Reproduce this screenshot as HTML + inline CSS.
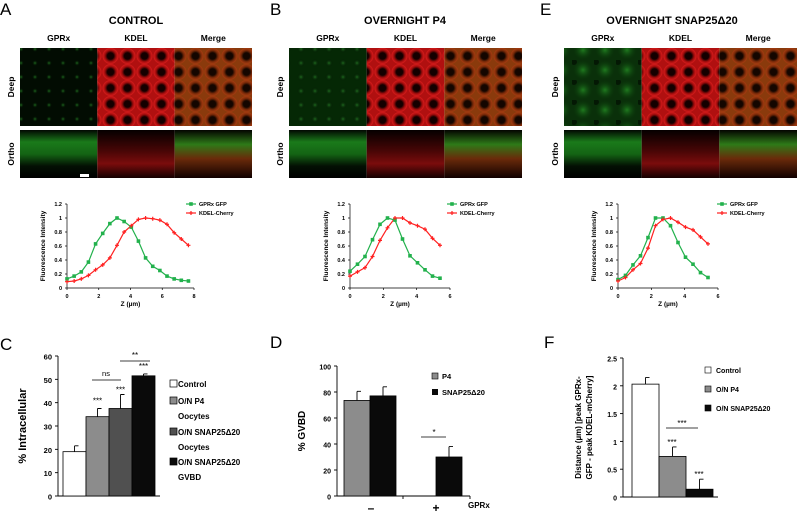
<!DOCTYPE html>
<html><head><meta charset="utf-8"><style>
html,body{margin:0;padding:0;background:#fff}
svg{display:block;font-family:"Liberation Sans",sans-serif}
</style></head><body>
<svg id="fig" width="798" height="512" viewBox="0 0 798 512">
<defs>
<radialGradient id="cellR"><stop offset="0.4" stop-color="#140000"/><stop offset="0.7" stop-color="#a00c0c"/><stop offset="0.95" stop-color="#d01a1a"/></radialGradient>
<pattern id="pR" width="17" height="16" patternUnits="userSpaceOnUse"><rect width="17" height="16" fill="#b01010"/><circle cx="8.5" cy="8" r="8" fill="url(#cellR)"/></pattern>
<radialGradient id="cellM"><stop offset="0.4" stop-color="#140600"/><stop offset="0.7" stop-color="#7a2a08"/><stop offset="0.95" stop-color="#a03a10"/></radialGradient>
<pattern id="pM" width="17" height="16" patternUnits="userSpaceOnUse"><rect width="17" height="16" fill="#8a3a0c"/><circle cx="8.5" cy="8" r="8" fill="url(#cellM)"/></pattern>
<radialGradient id="dotG"><stop offset="0" stop-color="#1e6a1e"/><stop offset="1" stop-color="#020e02" stop-opacity="0"/></radialGradient>
<pattern id="pG" width="14" height="14" patternUnits="userSpaceOnUse"><rect width="14" height="14" fill="#020c02"/><circle cx="7" cy="7" r="3" fill="url(#dotG)"/></pattern>
<pattern id="pG2" width="14" height="14" patternUnits="userSpaceOnUse"><rect width="14" height="14" fill="#052805"/><circle cx="7" cy="7" r="4" fill="url(#dotG)"/></pattern>
<radialGradient id="blobG"><stop offset="0" stop-color="#1f7a1f"/><stop offset="1" stop-color="#0a3a0a" stop-opacity="0"/></radialGradient>
<pattern id="pGE" width="22" height="20" patternUnits="userSpaceOnUse"><rect width="22" height="20" fill="#0a300a"/><circle cx="11" cy="10" r="10" fill="url(#blobG)"/><circle cx="2" cy="2" r="3" fill="#041804"/></pattern>
<linearGradient id="oG" x1="0" y1="0" x2="0" y2="1"><stop offset="0" stop-color="#020802"/><stop offset="0.25" stop-color="#1a7a1a"/><stop offset="0.5" stop-color="#146414"/><stop offset="0.75" stop-color="#031003"/><stop offset="1" stop-color="#000"/></linearGradient>
<linearGradient id="oR" x1="0" y1="0" x2="0" y2="1"><stop offset="0" stop-color="#050000"/><stop offset="0.45" stop-color="#4a0606"/><stop offset="0.7" stop-color="#7a0c0c"/><stop offset="1" stop-color="#140000"/></linearGradient>
<linearGradient id="oM" x1="0" y1="0" x2="0" y2="1"><stop offset="0" stop-color="#040400"/><stop offset="0.3" stop-color="#2e7a18"/><stop offset="0.6" stop-color="#6a2a0a"/><stop offset="1" stop-color="#100000"/></linearGradient>
</defs>
<g id="root"></g>
</svg>
<script>
// ---- Line chart data ----
const xA=[0,0.45,0.9,1.35,1.8,2.25,2.7,3.15,3.6,4.05,4.5,4.95,5.4,5.85,6.3,6.75,7.2,7.65];
const gA=[0.13,0.17,0.23,0.37,0.63,0.78,0.92,1.0,0.95,0.87,0.67,0.43,0.31,0.25,0.17,0.13,0.11,0.10];
const rA=[0.09,0.10,0.13,0.18,0.26,0.33,0.43,0.61,0.80,0.89,0.98,1.0,0.99,0.97,0.91,0.79,0.70,0.61];
const xB=[0,0.45,0.9,1.35,1.8,2.25,2.7,3.15,3.6,4.05,4.5,4.95,5.4];
const gB=[0.24,0.34,0.45,0.69,0.91,1.0,0.97,0.70,0.46,0.36,0.26,0.17,0.14];
const rB=[0.17,0.23,0.29,0.45,0.68,0.86,1.0,1.0,0.93,0.89,0.84,0.71,0.61];
const gE=[0.12,0.18,0.33,0.46,0.72,1.0,1.0,0.89,0.65,0.44,0.34,0.22,0.15];
const rE=[0.10,0.15,0.26,0.35,0.57,0.89,0.98,1.0,0.94,0.87,0.83,0.73,0.63];
const yTicksLine=[0,0.2,0.4,0.6,0.8,1,1.2];
const xTicksA=[0,2,4,6,8];
const xTicksB=[0,2,4,6];
// ---- Bar chart data ----
const cCats=['Control','O/N P4 Oocytes','O/N SNAP25Δ20 Oocytes','O/N SNAP25Δ20 GVBD'];
const cVals=[19,34,37.5,51.5];
const cErr=[2.5,3.5,6,0.8];
const cTicks=[0,10,20,30,40,50,60];
const dP4=[73.5,null];
const dSNAP=[77,30];
const dP4Err=[7,null];
const dSNAPErr=[7,8];
const dTicks=[0,20,40,60,80,100];
const fCats=['Control','O/N P4','O/N SNAP25Δ20'];
const fVals=[2.03,0.73,0.14];
const fErr=[0.12,0.17,0.18];
const fTicks=[0,0.5,1,1.5,2,2.5];

const NS='http://www.w3.org/2000/svg';
const root=document.getElementById('root');
function el(tag,attrs,parent,text){const e=document.createElementNS(NS,tag);for(const k in attrs)e.setAttribute(k,attrs[k]);if(text!==undefined)e.textContent=text;(parent||root).appendChild(e);return e;}

// ---- Header texts / images ----
function panelImages(letter,lx,title,tx,x0,x1,deepFill){
  let t=el('text',{x:lx,y:15,'font-size':17},root,letter);
  
  
  t=el('text',{x:tx,y:24,'font-size':11,'font-weight':'bold','text-anchor':'middle'},root,title);
  
  
  const w=(x1-x0)/3;const names=['GPRx','KDEL','Merge'];
  const fills=[deepFill,'url(#pR)','url(#pM)'];const ofills=['url(#oG)','url(#oR)','url(#oM)'];
  for(let i=0;i<3;i++){
    t=el('text',{x:x0+w*i+w/2,y:41,'font-size':8.5,'font-weight':'bold','text-anchor':'middle'},root,names[i]);
    
    
    let r=el('rect',{x:x0+w*i,y:48,width:w,height:78,fill:fills[i]});
    
    
    r=el('rect',{x:x0+w*i,y:130,width:w,height:48,fill:ofills[i]});
    
    
  }
  t=el('text',{transform:`translate(${x0-6},87) rotate(-90)`,'font-size':8.5,'font-weight':'bold','text-anchor':'middle'},root,'Deep');
  
  
  t=el('text',{transform:`translate(${x0-6},154) rotate(-90)`,'font-size':8.5,'font-weight':'bold','text-anchor':'middle'},root,'Ortho');
  
  
}
panelImages('A',0,'CONTROL',136,20,252,'url(#pG)');
panelImages('B',270,'OVERNIGHT  P4',405,289,522,'url(#pG2)');
panelImages('E',540,'OVERNIGHT  SNAP25Δ20',672,564,797,'url(#pGE)');
let sb=el('rect',{x:80,y:174,width:9,height:3,fill:'#fff'});



// ---- Line charts ----
function lineChart(key,x0,x1,xmax,xTicks,xs,g,r,legX){
  const yTop=204,yBot=288;
  const X=v=>x0+(v/xmax)*(x1-x0), Y=v=>yBot-(v/1.2)*(yBot-yTop);
  const grp=el('g',{});
  
  
  el('line',{x1:x0,y1:yTop,x2:x0,y2:yBot,stroke:'#000','stroke-width':0.7},grp);
  el('line',{x1:x0,y1:yBot,x2:x1,y2:yBot,stroke:'#000','stroke-width':0.7},grp);
  yTicksLine.forEach(v=>{el('line',{x1:x0-2,y1:Y(v),x2:x0,y2:Y(v),stroke:'#000','stroke-width':0.7},grp);
    const t=el('text',{x:x0-5,y:Y(v)+2,'font-size':5.5,'font-weight':'bold','text-anchor':'end'},grp,String(v));
    
    });
  xTicks.forEach(v=>{el('line',{x1:X(v),y1:yBot,x2:X(v),y2:yBot+2,stroke:'#000','stroke-width':0.7},grp);
    const t=el('text',{x:X(v),y:yBot+10,'font-size':5.5,'font-weight':'bold','text-anchor':'middle'},grp,String(v));
    
    });
  let t=el('text',{transform:`translate(${x0-22},${(yTop+yBot)/2}) rotate(-90)`,'font-size':6.5,'font-weight':'bold','text-anchor':'middle'},grp,'Fluorescence Intensity');
  
  
  t=el('text',{x:(x0+x1)/2,y:yBot+18,'font-size':6.5,'font-weight':'bold','text-anchor':'middle'},grp,'Z (µm)');
  
  
  const gp=xs.map((x,i)=>X(x)+','+Y(g[i])).join(' ');
  const rp=xs.map((x,i)=>X(x)+','+Y(r[i])).join(' ');
  let l=el('polyline',{points:gp,fill:'none',stroke:'#22b14c','stroke-width':1.2},grp);
  
  
  l=el('polyline',{points:rp,fill:'none',stroke:'#ff2020','stroke-width':1.2},grp);
  
  
  xs.forEach((x,i)=>{const m=el('rect',{x:X(x)-1.8,y:Y(g[i])-1.8,width:3.6,height:3.6,fill:'#22b14c'},grp);
    
    });
  xs.forEach((x,i)=>{const m=el('path',{d:`M${X(x)-2},${Y(r[i])}h4M${X(x)},${Y(r[i])-2}v4`,stroke:'#ff2020','stroke-width':1.2},grp);
    
    });
  el('line',{x1:legX,y1:204,x2:legX+10,y2:204,stroke:'#22b14c','stroke-width':1.2},grp);
  el('rect',{x:legX+3.2,y:202.2,width:3.6,height:3.6,fill:'#22b14c'},grp);
  t=el('text',{x:legX+13,y:206,'font-size':5.5,'font-weight':'bold'},grp,'GPRx GFP');
  
  
  el('line',{x1:legX,y1:213,x2:legX+10,y2:213,stroke:'#ff2020','stroke-width':1.2},grp);
  el('path',{d:`M${legX+3},213h4M${legX+5},211v4`,stroke:'#ff2020','stroke-width':1.2},grp);
  t=el('text',{x:legX+13,y:215,'font-size':5.5,'font-weight':'bold'},grp,'KDEL-Cherry');
  
  
}
lineChart('a',67,194,8,xTicksA,xA,gA,rA,186);
lineChart('b',350,450,6,xTicksB,xB,gB,rB,447);
lineChart('e',618,718,6,xTicksB,xB,gE,rE,717);

// ---- Bar helpers ----
function axisY(grp,x0,yTop,yBot,ticks,max,fs,xEnd){
  const Y=v=>yBot-(v/max)*(yBot-yTop);
  el('line',{x1:x0,y1:yTop,x2:x0,y2:yBot,stroke:'#000','stroke-width':0.9},grp);
  el('line',{x1:x0,y1:yBot,x2:xEnd,y2:yBot,stroke:'#000','stroke-width':0.9},grp);
  ticks.forEach(v=>{el('line',{x1:x0-3,y1:Y(v),x2:x0,y2:Y(v),stroke:'#000','stroke-width':0.9},grp);
    const t=el('text',{x:x0-6,y:Y(v)+3.5,'font-size':fs,'font-weight':'bold','text-anchor':'end'},grp,String(v));
    
    });
  return Y;
}
function bar(grp,x,w,v,err,Y,fill,name){
  const r=el('rect',{x:x,y:Y(v),width:w,height:Y(0)-Y(v),fill:fill,stroke:'#000','stroke-width':0.8},grp);
  
  
  const cx=x+w/2;
  el('path',{d:`M${cx},${Y(v)}V${Y(v+err)}M${cx},${Y(v+err)}h4`,stroke:'#000','stroke-width':0.9,fill:'none'},grp);
}
function txt(grp,x,y,s,fs,name,anchor,bold){const t=el('text',{x:x,y:y,'font-size':fs,'font-weight':bold===false?'normal':'bold','text-anchor':anchor||'start'},grp,s);
  
  return t;}

// ---- Chart C ----
{
  const grp=el('g',{});
  
  
  txt(grp,0,350,'C',17,'panel-label-c','start',false);
  const Y=axisY(grp,58,356,496,cTicks,60,7.5,160);
  const fills=['#fff','#8c8c8c','#505050','#0a0a0a'];
  cVals.forEach((v,i)=>bar(grp,63+23*i,23,v,cErr[i],Y,fills[i],'bar-c-'+i));
  const yl=txt(grp,0,0,'% Intracellular',11,'y-axis-title','middle');
  yl.setAttribute('transform',`translate(26,${(356+496)/2}) rotate(-90)`);
  txt(grp,63+23*1+11.5,Y(cVals[1]+cErr[1])-5,'***',8,'sig-c-1','middle',false);
  txt(grp,63+23*2+11.5,Y(cVals[2]+cErr[2])-2,'***',8,'sig-c-2','middle',false);
  txt(grp,63+23*3+11.5,Y(cVals[3]+cErr[3])-5,'***',8,'sig-c-3','middle',false);
  el('line',{x1:92,y1:380,x2:121,y2:380,stroke:'#000','stroke-width':0.8},grp);
  txt(grp,106,376,'ns',7.5,'sig-ns','middle',false);
  el('line',{x1:120,y1:361,x2:150,y2:361,stroke:'#000','stroke-width':0.8},grp);
  txt(grp,135,358,'**',8,'sig-c-pair','middle',false);
  const ly=[387,404,435,465];
  cCats.forEach((c,i)=>{
    const r=el('rect',{x:170,y:ly[i]-7,width:7,height:7,fill:fills[i],stroke:'#000','stroke-width':0.7},grp);
    
    
    const w=c.split(' ');
    const parts=i===0?[c]:[w.slice(0,2).join(' '),w.slice(2).join(' ')];
    txt(grp,178,ly[i],parts[0],8,'legend-entry-c');
    if(parts[1])txt(grp,178,ly[i]+15,parts[1],8,'legend-entry-c');
  });
}
// ---- Chart D ----
{
  const grp=el('g',{});
  
  
  txt(grp,270,348,'D',17,'panel-label-d','start',false);
  const Y=axisY(grp,337,366,496,dTicks,100,7,470);
  el('line',{x1:403,y1:496,x2:403,y2:499,stroke:'#000','stroke-width':0.9},grp);
  el('line',{x1:470,y1:496,x2:470,y2:499,stroke:'#000','stroke-width':0.9},grp);
  const gx=[344,410];
  [0,1].forEach(i=>{
    if(dP4[i]!==null)bar(grp,gx[i],26,dP4[i],dP4Err[i],Y,'#8c8c8c','bar-d-p4-'+i);
    bar(grp,gx[i]+26,26,dSNAP[i],dSNAPErr[i],Y,'#0a0a0a','bar-d-snap-'+i);
  });
  const yl=txt(grp,0,0,'% GVBD',10,'y-axis-title','middle');
  yl.setAttribute('transform',`translate(305,${(366+496)/2}) rotate(-90)`);
  txt(grp,371,512,'–',12,'x-label-minus','middle');
  txt(grp,436,512,'+',12,'x-label-plus','middle');
  txt(grp,468,508,'GPRx',8,'x-axis-title');
  el('line',{x1:421,y1:437,x2:446,y2:437,stroke:'#000','stroke-width':0.8},grp);
  txt(grp,434,435,'*',8,'sig-d','middle',false);
  let r=el('rect',{x:432,y:373,width:6,height:6,fill:'#8c8c8c',stroke:'#000','stroke-width':0.6},grp);
  
  
  txt(grp,442,379,'P4',7.5,'legend-entry-p4');
  r=el('rect',{x:432,y:389,width:6,height:6,fill:'#0a0a0a'},grp);
  
  
  txt(grp,442,395,'SNAP25Δ20',7.5,'legend-entry-snap');
}
// ---- Chart F ----
{
  const grp=el('g',{});
  
  
  txt(grp,544,348,'F',17,'panel-label-f','start',false);
  const Y=axisY(grp,623,358,497,fTicks,2.5,7,718);
  const fills=['#fff','#8c8c8c','#0a0a0a'];
  fVals.forEach((v,i)=>bar(grp,632+27*i,27,v,fErr[i],Y,fills[i],'bar-f-'+i));
  txt(grp,672,Y(fVals[1]+fErr[1])-2,'***',8,'sig-f-1','middle',false);
  txt(grp,699,Y(fVals[2]+fErr[2])-2,'***',8,'sig-f-2','middle',false);
  el('line',{x1:666,y1:428,x2:698,y2:428,stroke:'#000','stroke-width':0.8},grp);
  txt(grp,682,426,'***',8,'sig-f-pair','middle',false);
  let yl=txt(grp,0,0,'Distance (µm) [peak GPRx-',8,'y-axis-title','middle');
  yl.setAttribute('transform',`translate(581,${(358+497)/2}) rotate(-90)`);
  yl=txt(grp,0,0,'GFP - peak KDEL-mCherry]',8,'y-axis-title-2','middle');
  yl.setAttribute('transform',`translate(592,${(358+497)/2}) rotate(-90)`);
  const ly=[373,392,411];
  fCats.forEach((c,i)=>{
    const r=el('rect',{x:705,y:ly[i]-6,width:6,height:6,fill:fills[i],stroke:'#000','stroke-width':0.6},grp);
    
    
    txt(grp,716,ly[i],c,7,'legend-entry-f');
  });
}
</script>
</body></html>
